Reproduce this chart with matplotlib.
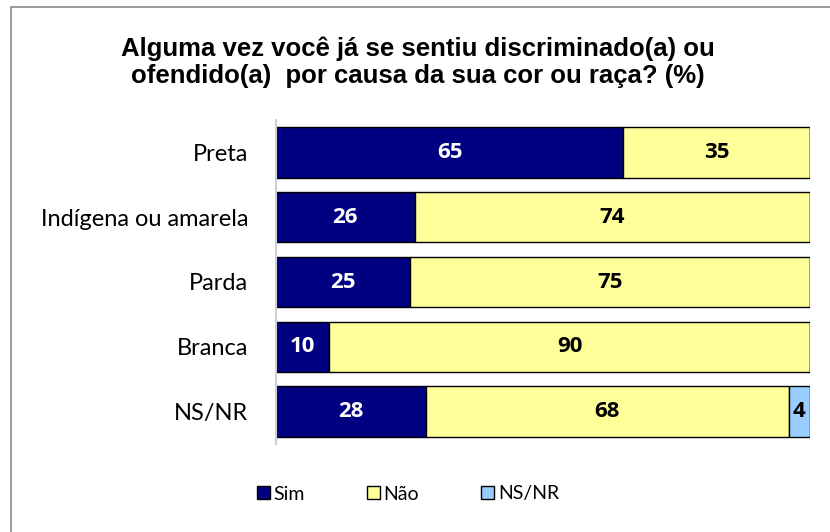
#!/usr/bin/env python3
"""Discriminação por cor ou raça: barras empilhadas horizontais (%)."""
import matplotlib.pyplot as plt
from matplotlib.patches import Rectangle

CATEGORIES = ["Preta", "Indígena ou amarela", "Parda", "Branca", "NS/NR"]
SIM = [65, 26, 25, 10, 28]
NAO = [35, 74, 75, 90, 68]
NSNR = [0, 0, 0, 0, 4]
SERIES = ["Sim", "Não", "NS/NR"]

COLORS = ["#000080", "#FFFF99", "#99CCFF"]
TEXT_COLORS = ["white", "black", "black"]
LABEL_FONT = ["Lato", "DejaVu Sans"]
VALUE_FONT = ["Open Sans", "DejaVu Sans"]


def main():
    fig = plt.figure(figsize=(8.3, 5.32), dpi=100)
    # outer chart frame, right and bottom edges run off the canvas
    fig.patches.append(Rectangle((11 / 830, -0.05), 830 / 830, 1 - 7 / 532 + 0.05,
                                 transform=fig.transFigure, fill=False,
                                 edgecolor="#888888", linewidth=1.2))

    ax = fig.add_axes([276 / 830, 1 - 444 / 532, 534 / 830, 324 / 532])
    y = list(range(len(CATEGORIES)))
    left = [0] * len(CATEGORIES)
    for vals, name, col, tcol in zip([SIM, NAO, NSNR], SERIES, COLORS, TEXT_COLORS):
        bars = ax.barh(y, vals, left=left, height=0.78, color=col,
                       edgecolor="black", linewidth=1.0, label=name)
        for b, v in zip(bars, vals):
            if v > 0:
                ax.text(b.get_x() + b.get_width() / 2, b.get_y() + b.get_height() / 2,
                        str(v), ha="center", va="center", color=tcol,
                        fontsize=16, fontweight="bold", family=VALUE_FONT)
        left = [l + v for l, v in zip(left, vals)]

    ax.set_xlim(0, 100)
    ax.set_ylim(len(CATEGORIES) - 0.5, -0.5)
    ax.set_yticks(y)
    ax.set_yticklabels(CATEGORIES, fontsize=17, family=LABEL_FONT)
    ax.tick_params(axis="y", length=0, pad=20)
    ax.set_xticks([])
    for s in ["top", "right", "bottom"]:
        ax.spines[s].set_visible(False)
    ax.spines["left"].set_color("#D0D0D0")
    ax.spines["left"].set_linewidth(1.5)

    fig.text(418 / 830, 1 - 62 / 532,
             "Alguma vez você já se sentiu discriminado(a) ou\n"
             "ofendido(a)  por causa da sua cor ou raça? (%)",
             ha="center", va="center", fontsize=18.5, fontweight="bold",
             family="Liberation Sans", linespacing=1.15)

    leg = fig.legend(loc="center", bbox_to_anchor=(408 / 830, 1 - 494 / 532),
                     ncol=3, frameon=False, prop={"family": LABEL_FONT, "size": 14},
                     handlelength=0.65, handleheight=0.65, handletextpad=0.2,
                     columnspacing=3.2)
    for h in leg.legend_handles:
        h.set_linewidth(1.0)

    fig.savefig("out.png", dpi=100)


if __name__ == "__main__":
    main()
